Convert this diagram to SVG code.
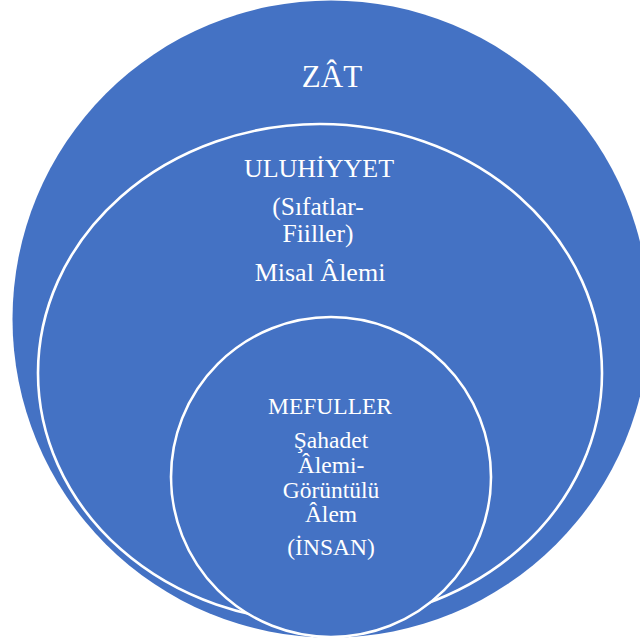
<svg xmlns="http://www.w3.org/2000/svg" width="640" height="643" viewBox="0 0 640 643">
  <style>
    .ring { fill: #4472C4; }
    .inner { fill: #4472C4; stroke: #FFFFFF; stroke-width: 2.6; }
    .lbl { font-family: "Liberation Serif", "Times New Roman", serif; fill: #FFFFFF; text-anchor: middle; }
  </style>
  <rect width="640" height="643" fill="#FFFFFF"/>
  <g id="zat">
    <circle class="ring" cx="331" cy="319" r="318.5"/>
    <text class="lbl" x="332" y="87" font-size="31">ZÂT</text>
  </g>
  <g id="uluhiyyet">
    <ellipse class="inner" cx="320" cy="373" rx="282" ry="249"/>
    <text class="lbl" x="319" y="177" font-size="26">ULUHİYYET</text>
    <text class="lbl" x="318" y="215" font-size="25.5">(Sıfatlar-</text>
    <text class="lbl" x="318" y="242" font-size="25.5">Fiiller)</text>
    <text class="lbl" x="320" y="281" font-size="26">Misal Âlemi</text>
  </g>
  <g id="mefuller">
    <circle class="inner" cx="331" cy="477" r="160"/>
    <text class="lbl" x="330" y="414" font-size="23.5">MEFULLER</text>
    <text class="lbl" x="331" y="448" font-size="23.5">Şahadet</text>
    <text class="lbl" x="331" y="473" font-size="23.5">Âlemi-</text>
    <text class="lbl" x="331" y="498" font-size="23.5">Görüntülü</text>
    <text class="lbl" x="331" y="522" font-size="23.5">Âlem</text>
    <text class="lbl" x="331" y="555" font-size="23.5">(İNSAN)</text>
  </g>
  <g id="connectors"/>
</svg>
